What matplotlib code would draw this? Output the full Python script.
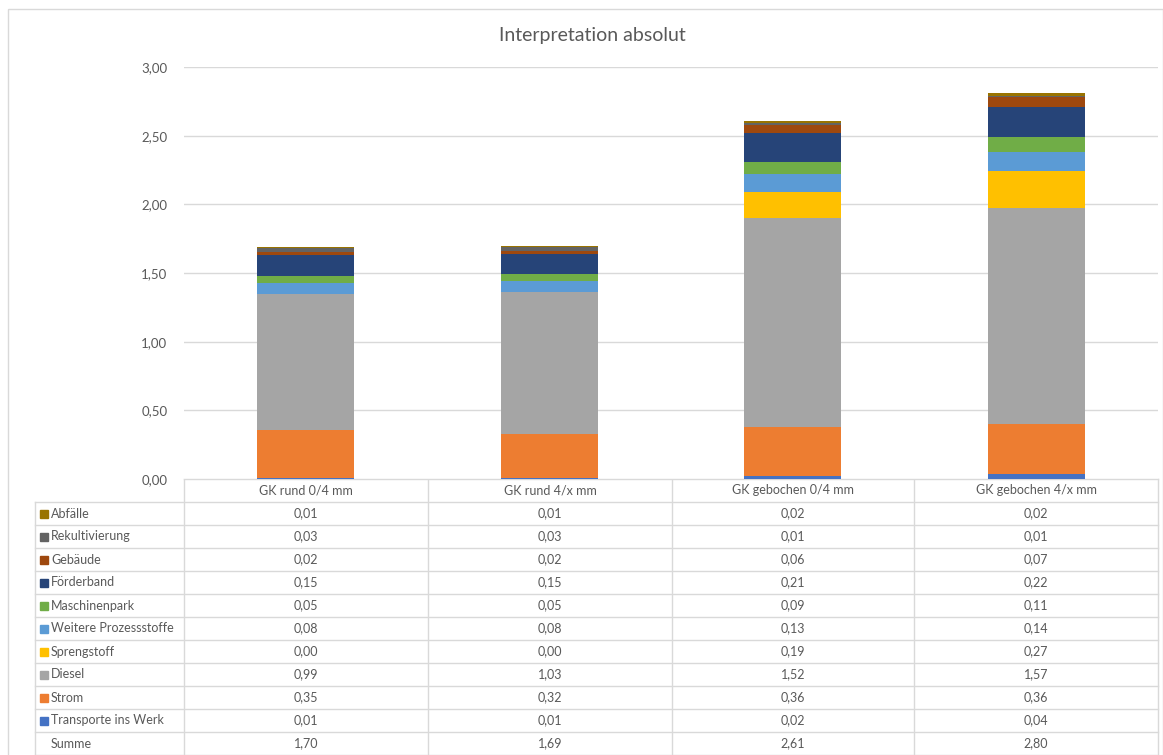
import matplotlib.pyplot as plt
from matplotlib.patches import Rectangle

categories = ["GK rund 0/4 mm", "GK rund 4/x mm", "GK gebochen 0/4 mm", "GK gebochen 4/x mm"]

# stacked from bottom to top
series = ["Transporte ins Werk", "Strom", "Diesel", "Sprengstoff", "Weitere Prozessstoffe",
          "Maschinenpark", "Förderband", "Gebäude", "Rekultivierung", "Abfälle"]
values = {
    "Transporte ins Werk":   [0.01, 0.01, 0.02, 0.04],
    "Strom":                 [0.35, 0.32, 0.36, 0.36],
    "Diesel":                [0.99, 1.03, 1.52, 1.57],
    "Sprengstoff":           [0.00, 0.00, 0.19, 0.27],
    "Weitere Prozessstoffe": [0.08, 0.08, 0.13, 0.14],
    "Maschinenpark":         [0.05, 0.05, 0.09, 0.11],
    "Förderband":            [0.15, 0.15, 0.21, 0.22],
    "Gebäude":               [0.02, 0.02, 0.06, 0.07],
    "Rekultivierung":        [0.03, 0.03, 0.01, 0.01],
    "Abfälle":               [0.01, 0.01, 0.02, 0.02],
}
totals = [1.70, 1.69, 2.61, 2.80]
colors = {
    "Transporte ins Werk": "#4472C4", "Strom": "#ED7D31", "Diesel": "#A5A5A5",
    "Sprengstoff": "#FFC000", "Weitere Prozessstoffe": "#5B9BD5", "Maschinenpark": "#70AD47",
    "Förderband": "#264478", "Gebäude": "#9E480E", "Rekultivierung": "#636363", "Abfälle": "#997300",
}

plt.rcParams["font.family"] = ["Lato", "DejaVu Sans"]
txt = "#595959"
grid = "#D9D9D9"
W, H = 1163, 755

fig = plt.figure(figsize=(W / 100, H / 100), dpi=100)

# background / frame layer in pixel coords
bg = fig.add_axes([0, 0, 1, 1])
bg.set_xlim(0, W)
bg.set_ylim(H, 0)
bg.axis("off")
bg.add_patch(Rectangle((8, 9), W - 8, H, fill=False, edgecolor=grid, lw=1))
bg.text(592, 36, "Interpretation absolut", ha="center", va="center", color=txt, fontsize=14)

ax = fig.add_axes([184 / W, (H - 479) / H, 974 / W, 412 / H])
bottom = [0.0] * len(categories)
for s in series:
    ax.bar(range(len(categories)), values[s], 0.4, bottom=bottom, color=colors[s], zorder=3)
    bottom = [b + v for b, v in zip(bottom, values[s])]
ax.set_xlim(-0.5, len(categories) - 0.5)
ax.set_ylim(0, 3)
ax.set_yticks([i * 0.5 for i in range(7)])
ax.set_yticklabels([f"{i * 0.5:.2f}".replace(".", ",") for i in range(7)], color=txt, fontsize=9.5)
ax.tick_params(axis="y", length=0, pad=12)
ax.set_xticks([])
ax.grid(axis="y", color=grid, lw=1, zorder=0)
for sp in ax.spines.values():
    sp.set_visible(False)

# data table
col_x = [184, 428, 672, 914, 1158]
row_top = 479
row_h = 23
rows = series[::-1] + ["Summe"]
bg.plot([col_x[0], col_x[-1]], [row_top, row_top], color=grid, lw=1)
for x in col_x:
    bg.plot([x, x], [row_top, row_top + row_h * (len(rows) + 1)], color=grid, lw=1)
bg.plot([35, 35], [row_top + row_h, row_top + row_h * (len(rows) + 1)], color=grid, lw=1)
for i in range(len(rows) + 1):
    y = row_top + row_h * (i + 1)
    bg.plot([35, col_x[-1]], [y, y], color=grid, lw=1)
for j, c in enumerate(categories):
    bg.text((col_x[j] + col_x[j + 1]) / 2, row_top + row_h / 2, c, ha="center", va="center",
            color=txt, fontsize=9)
for i, r in enumerate(rows):
    yc = row_top + row_h * (i + 1.5)
    vals = totals if r == "Summe" else values[r]
    if r != "Summe":
        bg.add_patch(Rectangle((40, yc - 4), 8, 8, color=colors[r]))
    bg.text(51, yc, r, ha="left", va="center", color=txt, fontsize=9)
    for j, v in enumerate(vals):
        bg.text((col_x[j] + col_x[j + 1]) / 2, yc, f"{v:.2f}".replace(".", ","),
                ha="center", va="center", color=txt, fontsize=9)

fig.savefig("out.png", dpi=100)
